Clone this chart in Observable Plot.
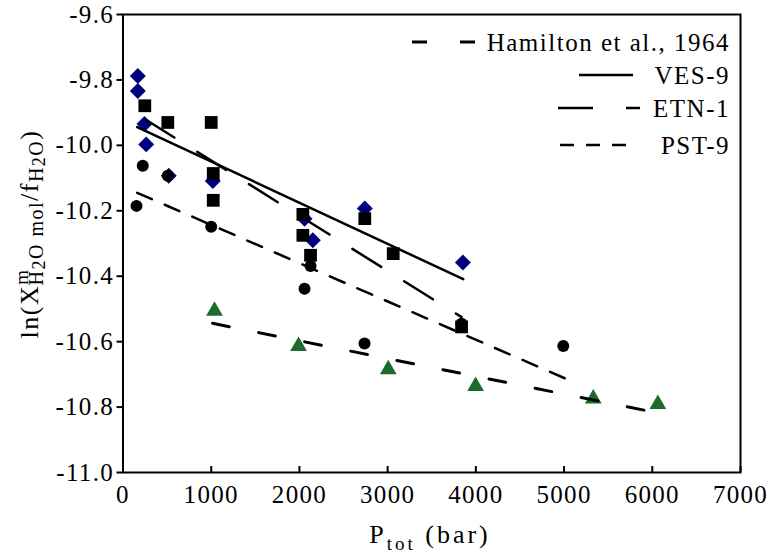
<!DOCTYPE html>
<html><head><meta charset="utf-8">
<script src="https://cdn.jsdelivr.net/npm/d3@7"></script>
<script src="https://cdn.jsdelivr.net/npm/@observablehq/plot@0.6"></script>
<style>
body{margin:0;background:#fff}
svg text{letter-spacing:1.3px;font-family:"Liberation Serif","Times New Roman",serif !important}
</style>
</head><body><div id="chart"></div>
<script>
// ---- data ----
const xTicks = [0, 1000, 2000, 3000, 4000, 5000, 6000, 7000];
const yTicks = [-11.0, -10.8, -10.6, -10.4, -10.2, -10.0, -9.8, -9.6];

const vesP  = [168, 168, 244, 263, 519, 1018, 2058, 2152, 2741, 3853];
const vesLn = [-9.788, -9.834, -9.935, -9.997, -10.093, -10.109, -10.224, -10.290, -10.193, -10.358];

const etnP  = [247, 508, 1000, 1023, 1023, 2039, 2039, 2126, 2741, 3063, 3838];
const etnLn = [-9.879, -9.930, -9.930, -10.086, -10.168, -10.211, -10.275, -10.336, -10.224, -10.331, -10.555];

const pstP  = [153, 224, 508, 1000, 2126, 2058, 2738, 3838, 4991];
const pstLn = [-10.185, -10.062, -10.093, -10.249, -10.369, -10.438, -10.606, -10.545, -10.613];

const hamP  = [1037, 1990, 3007, 3997, 5331, 6063];
const hamLn = [-10.506, -10.614, -10.685, -10.736, -10.774, -10.791];

// fitted lines (end points)
const vesFitP = [161, 3857],  vesFitLn = [-9.944, -10.409];
const etnFitP = [255, 3838],  etnFitLn = [-9.921, -10.525];
const pstFitP = [161, 5017],  pstFitLn = [-10.145, -10.713];
const hamFitP = [1015, 6063], hamFitLn = [-10.544, -10.818];

const legendLabels = ["Hamilton et al., 1964", "VES-9", "ETN-1", "PST-9"];

const pts = (P, L) => P.map((p, i) => ({p, ln: L[i]}));

const FONT = '"Liberation Serif", "Times New Roman", serif';
const navy = "#000080", green = "#1e6b2a";

const plot = Plot.plot({
  width: 774, height: 553,
  marginLeft: 122.5, marginRight: 34, marginTop: 14, marginBottom: 81,
  style: {fontFamily: FONT, fontSize: "25px", background: "#fff", color: "#000", overflow: "visible"},
  x: {domain: [0, 7000]},
  y: {domain: [-11, -9.6]},
  marks: [
    Plot.dot(pts(vesP, vesLn), {x: "p", y: "ln", symbol: "diamond2", r: 7.2, fill: navy, stroke: "none"}),
    Plot.dot(pts(hamP, hamLn), {x: "p", y: "ln", symbol: "triangle", r: 6.2, fill: green, stroke: "none"}),
    Plot.dot(pts(etnP, etnLn), {x: "p", y: "ln", symbol: "square", r: 7.2, fill: "#000", stroke: "none"}),
    Plot.dot(pts(pstP, pstLn), {x: "p", y: "ln", symbol: "circle", r: 6, fill: "#000", stroke: "none"}),
    Plot.line(pts(vesFitP, vesFitLn), {x: "p", y: "ln", stroke: "#000", strokeWidth: 2.5}),
    Plot.line(pts(etnFitP, etnFitLn), {x: "p", y: "ln", stroke: "#000", strokeWidth: 2.5, strokeDasharray: "34,27"}),
    Plot.line(pts(pstFitP, pstFitLn), {x: "p", y: "ln", stroke: "#000", strokeWidth: 2.5, strokeDasharray: "16,14"}),
    Plot.line(pts(hamFitP, hamFitLn), {x: "p", y: "ln", stroke: "#000", strokeWidth: 3, strokeDasharray: "17,30"}),
    Plot.frame({stroke: "#000", strokeWidth: 2}),
    Plot.axisY({ticks: yTicks, tickSize: 6, tickPadding: 3, strokeWidth: 2, label: null,
                tickFormat: d => d.toFixed(1)}),
    Plot.axisX({ticks: xTicks, tickSize: 0, tickPadding: 13, label: null, tickFormat: d => String(d)}),
    Plot.axisX({ticks: xTicks, tickSize: 6, dy: -6, text: null, label: null, strokeWidth: 2})
  ]
});

document.getElementById("chart").appendChild(plot);

const svg = d3.select(plot);

// y-axis title
const yl = svg.append("text")
  .attr("transform", "translate(38,234) rotate(-90)")
  .attr("text-anchor", "middle")
  .style("font-size", "26px").style("letter-spacing", "1.5px");
yl.append("tspan").text("ln(X");
yl.append("tspan").attr("dy", -10).style("font-size", "19px").text("m");
yl.append("tspan").attr("dx", -17).attr("dy", 15).style("font-size", "20px").text("H");
yl.append("tspan").attr("dy", 2).style("font-size", "18px").text("2");
yl.append("tspan").attr("dy", -2).style("font-size", "20px").text("O mol");
yl.append("tspan").attr("dy", -5).text("/f");
yl.append("tspan").attr("dy", 5).style("font-size", "20px").text("H");
yl.append("tspan").attr("dy", 2).style("font-size", "18px").text("2");
yl.append("tspan").attr("dy", -2).style("font-size", "20px").text("O");
yl.append("tspan").attr("dy", -5).text(")");

// x-axis title
const xl = svg.append("text")
  .attr("x", 430).attr("y", 543)
  .attr("text-anchor", "middle")
  .style("font-size", "26px").style("letter-spacing", "3px");
xl.append("tspan").text("P");
xl.append("tspan").attr("dy", 7).style("font-size", "19px").text("tot");
xl.append("tspan").attr("dy", -7).text(" (bar)");

// legend
const legendItems = [
  {label: legendLabels[0], y: 42,  x1: 412, x2: 475, dash: "15,33", w: 3},
  {label: legendLabels[1], y: 75,  x1: 579, x2: 633, dash: null, w: 2.5},
  {label: legendLabels[2], y: 108, x1: 558, x2: 640, dash: "35,33", w: 2.5},
  {label: legendLabels[3], y: 145, x1: 560, x2: 627, dash: "14,12", w: 2.5}
];
const lg = svg.append("g");
legendItems.forEach(d => {
  lg.append("line").attr("x1", d.x1).attr("x2", d.x2).attr("y1", d.y).attr("y2", d.y)
    .attr("stroke", "#000").attr("stroke-width", d.w)
    .attr("stroke-dasharray", d.dash);
  lg.append("text").attr("x", 730).attr("y", d.y + 8.5).attr("text-anchor", "end")
    .style("font-size", "25px").style("letter-spacing", "1.5px").text(d.label);
});
</script>
</body></html>
